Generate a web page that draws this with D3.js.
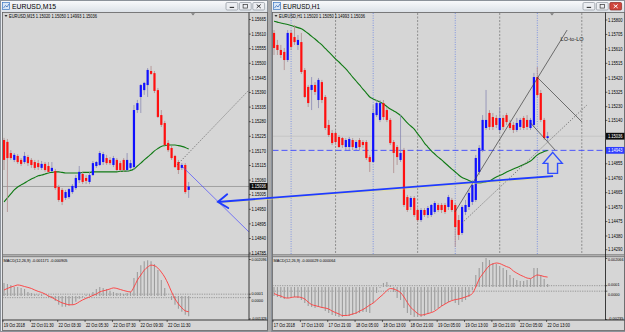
<!DOCTYPE html>
<html><head><meta charset="utf-8">
<script src="https://cdn.jsdelivr.net/npm/d3@7/dist/d3.min.js"></script>
<style>html,body{margin:0;padding:0;background:#a9a9a9;overflow:hidden}svg{display:block}</style>
</head><body>
<svg id="c" width="625" height="332"></svg>
<script>
// ================= DATA =================
const m15Title = "EURUSD,M15";
const h1Title = "EURUSD,H1";
const m15Header = "EURUSD,M15  1.15020 1.15050 1.14993 1.15036";
const h1Header = "EURUSD,H1  1.15020 1.15050 1.14993 1.15036";
const m15MacdHeader = "MACD(12,26,9) -0.001171 -0.000905";
const h1MacdHeader = "MACD(12,26,9) -0.000029 0.000064";

const m15TimeLabels = ["19 Oct 2018","22 Oct 01:30","22 Oct 03:30","22 Oct 05:30","22 Oct 07:30","22 Oct 09:30","22 Oct 11:30"];
const h1TimeLabels = ["17 Oct 2018","17 Oct 13:00","17 Oct 21:00","18 Oct 05:00","18 Oct 13:00","18 Oct 21:00","19 Oct 05:00","19 Oct 13:00","19 Oct 21:00","22 Oct 05:00","22 Oct 13:00"];
const barsPerLabel = 8;

const m15PriceTicks = [1.15665,1.15610,1.15555,1.15500,1.15445,1.15390,1.15335,1.15280,1.15225,1.15170,1.15115,1.15060,1.15005,1.14950,1.14895,1.14840,1.14785];
const h1PriceTicks = [1.15800,1.15705,1.15610,1.15515,1.15420,1.15325,1.15230,1.15140,1.14855,1.14760,1.14665,1.14570,1.14475,1.14380,1.14290];
const m15MacdTicks = [["0.002096",0.002096],["0.0001",0.0001],["0.0000",-0.0001],["-0.001329",-0.001329]];
const h1MacdTicks = [["0.002066",0.002066],["0.0001",0.0001],["0.0000",-0.0003],["-0.00235",-0.00235]];
const m15MacdLevels = [0.0001,-0.0001];
const h1MacdLevels = [0.0001,-0.0003];

const currentPrice = 1.15036;
const h1BlueLevel = 1.14943;

// M15 candles
const m15Open = [1.15211,1.15204,1.15162,1.15136,1.15151,1.15136,1.15128,1.15147,1.15136,1.15128,
1.15124,1.15106,1.15121,1.15113,1.15094,1.15094,1.15034,1.15023,1.14993,1.14996,
1.15015,1.15030,1.15060,1.15083,1.15068,1.15053,1.15079,1.15113,1.15117,1.15128,
1.15143,1.15136,1.15117,1.15136,1.15124,1.15136,1.15098,1.15106,1.15109,1.15324,
1.15373,1.15399,1.15418,1.15471,1.15463,1.15399,1.15305,1.15275,1.15200,1.15181,
1.15151,1.15128,1.15106,1.15117,1.15023];
const m15High = [1.15219,1.15215,1.15173,1.15162,1.15158,1.15143,1.15166,1.15155,1.15143,1.15136,
1.15136,1.15132,1.15128,1.15128,1.15128,1.15102,1.15042,1.15030,1.15023,1.15030,
1.15045,1.15079,1.15113,1.15091,1.15079,1.15091,1.15132,1.15132,1.15170,1.15166,
1.15155,1.15147,1.15151,1.15143,1.15132,1.15143,1.15162,1.15136,1.15343,1.15362,
1.15422,1.15430,1.15482,1.15490,1.15471,1.15407,1.15324,1.15283,1.15211,1.15189,
1.15155,1.15136,1.15124,1.15124,1.15053];
const m15Low = [1.15098,1.14940,1.15136,1.15128,1.15121,1.15113,1.15121,1.15113,1.15106,1.15098,
1.15098,1.15098,1.15091,1.15087,1.15091,1.15023,1.14978,1.14966,1.14985,1.14989,
1.15008,1.15023,1.15049,1.15045,1.15045,1.15045,1.15076,1.15106,1.15113,1.15117,
1.15117,1.15117,1.15109,1.15094,1.15091,1.15091,1.15091,1.15098,1.15098,1.15313,
1.15313,1.15381,1.15373,1.15456,1.15388,1.15294,1.15260,1.15189,1.15166,1.15136,
1.15106,1.15083,1.15098,1.15008,1.14993];
const m15Close = [1.15136,1.15143,1.15143,1.15155,1.15128,1.15121,1.15151,1.15124,1.15117,1.15106,
1.15109,1.15121,1.15098,1.15091,1.15106,1.15030,1.14985,1.14978,1.15015,1.15026,
1.15038,1.15068,1.15091,1.15053,1.15057,1.15079,1.15124,1.15128,1.15162,1.15158,
1.15124,1.15124,1.15143,1.15098,1.15098,1.15098,1.15136,1.15124,1.15324,1.15350,
1.15418,1.15426,1.15475,1.15460,1.15396,1.15298,1.15268,1.15192,1.15173,1.15143,
1.15109,1.15098,1.15117,1.15015,1.15036];
const m15MA = [1.14978,1.14993,1.15008,1.15023,1.15034,1.15042,1.15049,1.15057,1.15064,1.15070,
1.15076,1.15079,1.15083,1.15087,1.15089,1.15091,1.15091,1.15089,1.15087,1.15087,
1.15087,1.15087,1.15087,1.15089,1.15089,1.15089,1.15091,1.15091,1.15091,1.15091,
1.15091,1.15091,1.15091,1.15091,1.15093,1.15094,1.15094,1.15096,1.15102,1.15113,
1.15124,1.15136,1.15147,1.15158,1.15170,1.15179,1.15187,1.15190,1.15192,1.15192,
1.15192,1.15190,1.15187,1.15183,1.15177];
const m15Hist = [0.00074,0.00068,0.00063,0.00051,0.00051,0.00046,0.00040,0.00023,0.00017,0.00011,
0.00006,0.00006,0.00000,-0.00006,-0.00011,-0.00029,-0.00051,-0.00063,-0.00063,-0.00057,
-0.00051,-0.00034,-0.00017,-0.00006,0.00006,0.00011,0.00023,0.00040,0.00051,0.00046,
0.00040,0.00029,0.00023,0.00017,0.00017,0.00011,0.00017,0.00023,0.00103,0.00137,
0.00177,0.00200,0.00206,0.00200,0.00183,0.00149,0.00091,0.00046,0.00000,-0.00023,
-0.00051,-0.00074,-0.00091,-0.00109,-0.00117];
const m15Signal = [0.00034,0.00043,0.00051,0.00057,0.00063,0.00060,0.00054,0.00049,0.00043,0.00034,
0.00026,0.00020,0.00011,0.00000,-0.00009,-0.00020,-0.00031,-0.00040,-0.00046,-0.00051,
-0.00051,-0.00046,-0.00034,-0.00023,-0.00014,-0.00006,0.00003,0.00011,0.00023,0.00029,
0.00034,0.00040,0.00046,0.00043,0.00037,0.00031,0.00026,0.00023,0.00051,0.00091,
0.00120,0.00148,0.00166,0.00177,0.00174,0.00160,0.00137,0.00108,0.00069,0.00023,
-0.00017,-0.00046,-0.00069,-0.00086,-0.00091];

// H1 candles
const h1Open = [1.15715,1.15636,1.15603,1.15590,1.15537,1.15715,1.15688,1.15636,1.15655,1.15471,
1.15360,1.15340,1.15373,1.15274,1.15392,1.15294,1.15110,1.15057,1.15057,1.15031,
1.15024,1.14965,1.14965,1.15011,1.14959,1.15011,1.14998,1.14998,1.14899,1.14867,
1.15175,1.15143,1.15254,1.15208,1.15143,1.14998,1.14965,1.14880,1.14945,1.14636,
1.14571,1.14630,1.14551,1.14485,1.14551,1.14518,1.14518,1.14538,1.14584,1.14584,
1.14584,1.14571,1.14617,1.14584,1.14485,1.14400,1.14538,1.14571,1.14604,1.14617,
1.14801,1.14945,1.15090,1.15189,1.15162,1.15156,1.15077,1.15156,1.15175,1.15123,
1.15110,1.15077,1.15097,1.15156,1.15143,1.15090,1.15110,1.15425,1.15320,1.15143,
1.15024];
const h1High = [1.15734,1.15669,1.15636,1.15616,1.15734,1.15734,1.15767,1.15701,1.15715,1.15484,
1.15373,1.15425,1.15392,1.15419,1.15406,1.15307,1.15143,1.15077,1.15070,1.15044,
1.15031,1.15024,1.15031,1.15024,1.15011,1.15024,1.15011,1.15011,1.14913,1.15241,
1.15274,1.15274,1.15274,1.15228,1.15156,1.15011,1.14978,1.15175,1.14959,1.14650,
1.14643,1.14643,1.14564,1.14564,1.14564,1.14577,1.14590,1.14610,1.14597,1.14597,
1.14597,1.14650,1.14630,1.14597,1.14518,1.14584,1.14617,1.14682,1.14748,1.14913,
1.14978,1.15175,1.15340,1.15208,1.15189,1.15175,1.15228,1.15175,1.15189,1.15143,
1.15129,1.15156,1.15156,1.15169,1.15175,1.15156,1.15452,1.15491,1.15340,1.15156,
1.15064];
const h1Low = [1.15570,1.15570,1.15550,1.15471,1.15524,1.15603,1.15636,1.15603,1.15445,1.15287,
1.15228,1.15208,1.15307,1.15221,1.15254,1.15077,1.15031,1.14978,1.14978,1.14959,
1.14959,1.14945,1.14945,1.14945,1.14945,1.14945,1.14959,1.14880,1.14801,1.14860,
1.15162,1.15129,1.15143,1.15129,1.14978,1.14794,1.14847,1.14867,1.14571,1.14538,
1.14551,1.14505,1.14472,1.14472,1.14505,1.14498,1.14505,1.14525,1.14538,1.14531,
1.14525,1.14551,1.14538,1.14308,1.14354,1.14387,1.14518,1.14551,1.14584,1.14604,
1.14781,1.14932,1.15077,1.15077,1.15077,1.15090,1.15064,1.15077,1.15110,1.15077,
1.15057,1.15064,1.15077,1.15077,1.15077,1.15077,1.15097,1.15294,1.15129,1.15011,
1.15005];
const h1Close = [1.15616,1.15603,1.15570,1.15537,1.15715,1.15623,1.15655,1.15669,1.15458,1.15294,
1.15254,1.15373,1.15327,1.15406,1.15274,1.15090,1.15044,1.14991,1.14998,1.14965,
1.14978,1.15011,1.15018,1.14965,1.14998,1.14965,1.14978,1.14893,1.14867,1.15189,
1.15254,1.15254,1.15162,1.15143,1.14991,1.14926,1.14899,1.14926,1.14584,1.14551,
1.14630,1.14518,1.14485,1.14551,1.14518,1.14564,1.14584,1.14597,1.14551,1.14551,
1.14538,1.14636,1.14551,1.14439,1.14387,1.14571,1.14584,1.14663,1.14715,1.14893,
1.14959,1.15143,1.15143,1.15097,1.15097,1.15110,1.15156,1.15097,1.15129,1.15090,
1.15077,1.15123,1.15143,1.15090,1.15097,1.15143,1.15425,1.15307,1.15143,1.15024,
1.15036];
const h1MA = [1.15792,1.15786,1.15780,1.15775,1.15770,1.15764,1.15757,1.15750,1.15742,1.15728,
1.15711,1.15692,1.15675,1.15655,1.15636,1.15613,1.15590,1.15567,1.15544,1.15524,
1.15501,1.15478,1.15452,1.15425,1.15399,1.15373,1.15346,1.15320,1.15294,1.15281,
1.15271,1.15261,1.15248,1.15231,1.15215,1.15202,1.15189,1.15172,1.15149,1.15123,
1.15103,1.15083,1.15051,1.15024,1.14991,1.14965,1.14939,1.14919,1.14899,1.14880,
1.14860,1.14840,1.14820,1.14801,1.14781,1.14765,1.14755,1.14745,1.14735,1.14728,
1.14728,1.14732,1.14735,1.14742,1.14755,1.14768,1.14778,1.14788,1.14801,1.14811,
1.14820,1.14830,1.14840,1.14850,1.14860,1.14873,1.14893,1.14913,1.14926,1.14936,
1.14942];
const h1Hist = [-0.00065,-0.00072,-0.00080,-0.00087,-0.00080,-0.00072,-0.00072,-0.00080,-0.00094,-0.00116,
-0.00138,-0.00145,-0.00152,-0.00145,-0.00152,-0.00174,-0.00188,-0.00203,-0.00210,-0.00217,
-0.00217,-0.00210,-0.00210,-0.00203,-0.00195,-0.00188,-0.00181,-0.00181,-0.00188,-0.00116,
-0.00043,-0.00007,0.00029,0.00036,0.00014,-0.00036,-0.00080,-0.00094,-0.00152,-0.00188,
-0.00203,-0.00217,-0.00217,-0.00217,-0.00210,-0.00195,-0.00181,-0.00167,-0.00152,-0.00138,
-0.00123,-0.00109,-0.00094,-0.00116,-0.00130,-0.00109,-0.00094,-0.00072,-0.00022,0.00087,
0.00138,0.00181,0.00210,0.00195,0.00174,0.00167,0.00152,0.00138,0.00123,0.00087,
0.00065,0.00051,0.00043,0.00043,0.00051,0.00058,0.00138,0.00138,0.00087,0.00058,
0.00022];
const h1Signal = [-0.00047,-0.00058,-0.00065,-0.00076,-0.00080,-0.00076,-0.00072,-0.00072,-0.00076,-0.00087,
-0.00109,-0.00127,-0.00134,-0.00141,-0.00148,-0.00152,-0.00159,-0.00174,-0.00185,-0.00195,
-0.00206,-0.00206,-0.00203,-0.00195,-0.00188,-0.00174,-0.00163,-0.00148,-0.00130,-0.00116,
-0.00094,-0.00072,-0.00051,-0.00025,-0.00011,-0.00014,-0.00025,-0.00040,-0.00072,-0.00112,
-0.00148,-0.00170,-0.00192,-0.00203,-0.00199,-0.00192,-0.00185,-0.00174,-0.00156,-0.00138,
-0.00123,-0.00109,-0.00098,-0.00091,-0.00087,-0.00080,-0.00072,-0.00062,-0.00047,0.00000,
0.00058,0.00094,0.00127,0.00156,0.00167,0.00174,0.00170,0.00159,0.00148,0.00138,
0.00116,0.00101,0.00087,0.00076,0.00065,0.00062,0.00076,0.00087,0.00083,0.00076,
0.00072];

// vertical separators on H1 (bar indices)
const h1BlueSeps = [5,29,53,77];
const h1GraySeps = [18,42,66,90];

// trend lines: [bar, price] pairs
const m15DottedLine = [[50.6,1.15117],[71.6,1.15399]];
const m15BlueLine = [[52.3,1.15109],[71.6,1.14865]];
const h1LoToLo = [[52.9,1.14538],[85.7,1.15734]];
const h1PeakLine = [[76.9,1.15425],[90,1.15131]];
const h1SideLine = [[75,1.15123],[82.2,1.14945]];
const h1DottedLine = [[55,1.14466],[91.5,1.15241]];
const bigArrow = [[-16.4,1.14604],[81.6,1.14774]]; // in H1 coordinates
const upArrowTip = [81.5,1.14930];
const loToLoLabel = {text:"LO-to-LO", bar:83.8, price:1.15660};

// ================= DRAW =================
const svg = d3.select('#c');
const FONT = "'Liberation Sans', Arial, sans-serif";
const SP = 3.42;
const defs = svg.append('defs');
const grad = defs.append('linearGradient').attr('id','tb').attr('x1',0).attr('y1',0).attr('x2',0).attr('y2',1);
grad.append('stop').attr('offset','0%').attr('stop-color','#f8f9fb');
grad.append('stop').attr('offset','100%').attr('stop-color','#dde2e8');

svg.append('rect').attr('width',625).attr('height',332).attr('fill','#a9a9a9');

function txt(g, x, y, s, size, opt={}) {
  const t = g.append('text').attr('x',x).attr('y',y).attr('font-family',FONT).attr('font-size',size)
    .attr('fill',opt.fill||'#000').text(s);
  if (opt.len) t.attr('textLength',opt.len).attr('lengthAdjust','spacingAndGlyphs');
  if (opt.anchor) t.attr('text-anchor',opt.anchor);
  return t;
}

function makeWindow(cfg) {
  const g = svg.append('g');
  g.append('rect').attr('x',cfg.x0+0.5).attr('y',0.5).attr('width',cfg.w-1).attr('height',331)
    .attr('fill','#e6e9ee').attr('stroke','#8c929a');
  g.append('rect').attr('x',cfg.x0+1).attr('y',1).attr('width',cfg.w-2).attr('height',11).attr('fill','url(#tb)');
  g.append('rect').attr('x',cfg.x0+2.5).attr('y',2.5).attr('width',7).attr('height',7)
    .attr('fill','#d8e6f7').attr('stroke','#3b77c4').attr('stroke-width',0.7);
  g.append('path').attr('d',`M${cfg.x0+3.5},8 L${cfg.x0+5.5},5.5 L${cfg.x0+7},7 L${cfg.x0+9},4`)
    .attr('stroke','#2a60b0').attr('stroke-width',0.7).attr('fill','none');
  txt(g, cfg.x0+12, 9.4, cfg.title, 6.6, {len: cfg.titleLen});
  const bx = cfg.x0 + cfg.w - 42;
  for (let k=0;k<3;k++){
    const x = bx + k*13.4;
    const close = (k===2 && cfg.active);
    g.append('rect').attr('x',x).attr('y',2.5).attr('width',11.8).attr('height',7.5).attr('rx',1.2)
      .attr('fill', close ? '#d0463c' : '#eceef2').attr('stroke', close ? '#8a2a24' : '#8d939c').attr('stroke-width',0.7);
    const cx = x+5.9, cy = 6.25;
    if (k===0) g.append('rect').attr('x',cx-2.2).attr('y',cy+0.6).attr('width',4.4).attr('height',1.1).attr('fill','#333');
    if (k===1) g.append('rect').attr('x',cx-2.2).attr('y',cy-1.8).attr('width',4.4).attr('height',3.6).attr('fill','none').attr('stroke','#333').attr('stroke-width',0.7);
    if (k===2) g.append('path').attr('d',`M${cx-2},${cy-1.7}L${cx+2},${cy+1.7}M${cx+2},${cy-1.7}L${cx-2},${cy+1.7}`)
      .attr('stroke', close ? '#fff':'#333').attr('stroke-width',1);
  }
  g.append('rect').attr('x',cfg.left).attr('y',12.5).attr('width',cfg.right-cfg.left).attr('height',318)
    .attr('fill','#d6d6d6').attr('stroke','#5f5f5f').attr('stroke-width',0.8);
  return g;
}

function drawChart(cfg) {
  const g = makeWindow(cfg);
  const xs = d3.scaleLinear().domain([0, cfg.open.length-1]).range([cfg.x0bar, cfg.x0bar + (cfg.open.length-1)*SP]);
  const ys = d3.scaleLinear().domain(cfg.priceDomain).range(cfg.priceRange);
  const ym = d3.scaleLinear().domain(cfg.macdDomain).range(cfg.macdRange);
  const id = cfg.id;
  defs.append('clipPath').attr('id','main'+id).append('rect')
    .attr('x',cfg.left+0.5).attr('y',cfg.plotTop).attr('width',cfg.axisX-cfg.left-0.5).attr('height',cfg.plotBot-cfg.plotTop);
  defs.append('clipPath').attr('id','macd'+id).append('rect')
    .attr('x',cfg.left+0.5).attr('y',cfg.macdTop).attr('width',cfg.axisX-cfg.left-0.5).attr('height',cfg.macdBot-cfg.macdTop);

  g.append('rect').attr('x',cfg.left+0.4).attr('y',cfg.plotBot).attr('width',cfg.right-cfg.left-0.8).attr('height',cfg.macdTop-cfg.plotBot)
    .attr('fill','#c4c4c4');
  g.append('line').attr('x1',cfg.left).attr('x2',cfg.right).attr('y1',cfg.plotBot+0.3).attr('y2',cfg.plotBot+0.3).attr('stroke','#6a6a6a').attr('stroke-width',0.8);
  g.append('line').attr('x1',cfg.left).attr('x2',cfg.right).attr('y1',cfg.macdTop-0.3).attr('y2',cfg.macdTop-0.3).attr('stroke','#6a6a6a').attr('stroke-width',0.8);

  const main = g.append('g').attr('clip-path',`url(#main${id})`);
  const macd = g.append('g').attr('clip-path',`url(#macd${id})`);

  (cfg.blueSeps||[]).forEach(b=>{
    main.append('line').attr('x1',xs(b)).attr('x2',xs(b)).attr('y1',cfg.plotTop).attr('y2',cfg.plotBot)
      .attr('stroke','#5a78e6').attr('stroke-width',0.7).attr('stroke-dasharray','1,1.4');
  });
  (cfg.graySeps||[]).forEach(b=>{
    main.append('line').attr('x1',xs(b)).attr('x2',xs(b)).attr('y1',cfg.plotTop).attr('y2',cfg.plotBot)
      .attr('stroke','#707070').attr('stroke-width',0.7).attr('stroke-dasharray','2,1.5');
  });

  if (cfg.blueLevel) {
    main.append('line').attr('x1',cfg.left).attr('x2',cfg.axisX).attr('y1',ys(cfg.blueLevel)).attr('y2',ys(cfg.blueLevel))
      .attr('stroke','#3c46ff').attr('stroke-width',0.9).attr('stroke-dasharray','6,3');
  }
  main.append('line').attr('x1',cfg.left).attr('x2',cfg.axisX).attr('y1',ys(currentPrice)).attr('y2',ys(currentPrice))
    .attr('stroke',cfg.curLineColor).attr('stroke-width',0.7);

  main.append('path').datum(cfg.ma).attr('fill','none').attr('stroke','#0f7a14').attr('stroke-width',1.1)
    .attr('d', d3.line().x((d,i)=>xs(i)).y(d=>ys(d)).curve(d3.curveMonotoneX));

  cfg.open.forEach((o,i)=>{
    const c = cfg.close[i], h = cfg.high[i], l = cfg.low[i];
    const up = c >= o;
    main.append('line').attr('x1',xs(i)).attr('x2',xs(i)).attr('y1',ys(h)).attr('y2',ys(l))
      .attr('stroke', up ? '#8a8ab4' : '#b08a8a').attr('stroke-width',0.8);
    const top = ys(Math.max(o,c)), bot = ys(Math.min(o,c));
    main.append('rect').attr('x',xs(i)-1.1).attr('width',2.2).attr('y',top).attr('height',Math.max(0.9,bot-top))
      .attr('fill', up ? '#1010ff' : '#ff1010');
  });

  (cfg.lines||[]).forEach(L=>{
    main.append('line').attr('x1',xs(L.pts[0][0])).attr('y1',ys(L.pts[0][1])).attr('x2',xs(L.pts[1][0])).attr('y2',ys(L.pts[1][1]))
      .attr('stroke',L.color).attr('stroke-width',L.w).attr('stroke-dasharray',L.dash||null);
  });

  g.append('path').attr('d',`M${cfg.shiftX-2},${cfg.plotTop+0.3} L${cfg.shiftX+2},${cfg.plotTop+0.3} L${cfg.shiftX},${cfg.plotTop+2.6}Z`).attr('fill','#7a7a7a');

  g.append('path').attr('d',`M${cfg.left+2},${cfg.plotTop+2} L${cfg.left+5},${cfg.plotTop+2} L${cfg.left+3.5},${cfg.plotTop+4}Z`).attr('fill','#333');
  txt(g, cfg.left+6.5, cfg.plotTop+4.6, cfg.header, 4.6, {len: cfg.headerLen});

  cfg.macdLevels.forEach(v=>{
    macd.append('line').attr('x1',cfg.left).attr('x2',cfg.axisX).attr('y1',ym(v)).attr('y2',ym(v))
      .attr('stroke','#7d7d7d').attr('stroke-width',0.7).attr('stroke-dasharray','1.2,1.2');
  });
  cfg.hist.forEach((v,i)=>{
    macd.append('line').attr('x1',xs(i)).attr('x2',xs(i)).attr('y1',ym(0)).attr('y2',ym(v))
      .attr('stroke','#9c9c9c').attr('stroke-width',1.1);
  });
  macd.append('path').datum(cfg.signal).attr('fill','none').attr('stroke','#ff3a3a').attr('stroke-width',0.9)
    .attr('d', d3.line().x((d,i)=>xs(i)).y(d=>ym(d)).curve(d3.curveMonotoneX));
  txt(g, cfg.left+1, cfg.macdTop+4.5, cfg.macdHeader, 4.4, {len: cfg.macdHeaderLen});

  g.append('line').attr('x1',cfg.axisX).attr('x2',cfg.axisX).attr('y1',12.5).attr('y2',cfg.macdBot).attr('stroke','#111').attr('stroke-width',0.8);
  g.append('line').attr('x1',cfg.left).attr('x2',cfg.right).attr('y1',cfg.macdBot).attr('y2',cfg.macdBot).attr('stroke','#111').attr('stroke-width',0.8);

  cfg.priceTicks.forEach(v=>{
    const y = ys(v);
    g.append('line').attr('x1',cfg.axisX).attr('x2',cfg.axisX+1.8).attr('y1',y).attr('y2',y).attr('stroke','#111').attr('stroke-width',0.6);
    txt(g, cfg.axisX+2.4, y+1.7, v.toFixed(5), 4.8, {len:14.6});
  });
  // MACD ticks: the two near-zero labels are set one above, one below their lines
  const nearZero = cfg.macdTicks.slice(1,3);
  cfg.macdTicks.forEach(([s,v],k)=>{
    const y = ym(v);
    g.append('line').attr('x1',cfg.axisX).attr('x2',cfg.axisX+1.8).attr('y1',y).attr('y2',y).attr('stroke','#111').attr('stroke-width',0.6);
    let by;
    if (k===0) by = cfg.macdTop + 4.2;
    else if (k===1) by = y + 0.6;
    else if (k===2) by = y + 4.4;
    else by = cfg.macdBot - 0.4;
    const fs = (k===1||k===2) ? 3.9 : 4.4;
    const len = Math.min(s.length*1.95, cfg.right - cfg.axisX - 3.4);
    txt(g, cfg.axisX+2.4, by, s, fs, {len});
  });

  const cy = ys(currentPrice);
  g.append('rect').attr('x',cfg.axisX+0.5).attr('y',cy-3.4).attr('width',cfg.right-cfg.axisX-0.5).attr('height',6.8).attr('fill','#0c0c0c');
  txt(g, cfg.axisX+2.4, cy+1.7, currentPrice.toFixed(5), 4.8, {len:14.6, fill:'#fff'});
  if (cfg.blueLevel) {
    const by = ys(cfg.blueLevel);
    g.append('rect').attr('x',cfg.axisX+0.5).attr('y',by-3.4).attr('width',cfg.right-cfg.axisX-0.5).attr('height',6.8).attr('fill','#2f3dff');
    txt(g, cfg.axisX+2.4, by+1.7, cfg.blueLevel.toFixed(5), 4.8, {len:14.6, fill:'#fff'});
  }

  cfg.timeLabels.forEach((s,k)=>{
    const x = xs(k*barsPerLabel) - 1;
    g.append('line').attr('x1',x).attr('x2',x).attr('y1',cfg.macdBot).attr('y2',cfg.macdBot+2).attr('stroke','#111').attr('stroke-width',0.6);
    txt(g, x+0.8, cfg.macdBot+7.2, s, 4.7, {len: s.includes(':') ? 22.5 : 21});
  });

  return {xs, ys, g, main};
}

const L = drawChart({
  id:'L', x0:0, w:268, title:m15Title, titleLen:44, active:false,
  left:2.5, right:267.5, axisX:249, plotTop:13, plotBot:254.5, macdTop:257, macdBot:320,
  x0bar:4, priceDomain:[m15PriceTicks[0], m15PriceTicks[m15PriceTicks.length-1]], priceRange:[19.5,253.1],
  macdDomain:[0.002096,-0.001329], macdRange:[259.5,319],
  open:m15Open, high:m15High, low:m15Low, close:m15Close, ma:m15MA, hist:m15Hist, signal:m15Signal,
  priceTicks:m15PriceTicks, macdTicks:m15MacdTicks, macdLevels:m15MacdLevels,
  timeLabels:m15TimeLabels, header:m15Header, headerLen:88, macdHeader:m15MacdHeader, macdHeaderLen:64,
  curLineColor:'#8a8a8a', shiftX:193,
  lines:[
    {pts:m15DottedLine, color:'#555', w:0.7, dash:'1.3,1.5'},
    {pts:m15BlueLine, color:'#4a4aff', w:0.7}
  ]
});

const R = drawChart({
  id:'R', x0:271, w:354, title:h1Title, titleLen:37, active:true,
  left:272.5, right:624.5, axisX:605.5, plotTop:13, plotBot:254.5, macdTop:257, macdBot:320,
  x0bar:274, priceDomain:[h1PriceTicks[0], h1PriceTicks[h1PriceTicks.length-1]], priceRange:[20,249.7],
  macdDomain:[0.002066,-0.00235], macdRange:[258.5,319.5],
  open:h1Open, high:h1High, low:h1Low, close:h1Close, ma:h1MA, hist:h1Hist, signal:h1Signal,
  priceTicks:h1PriceTicks, macdTicks:h1MacdTicks, macdLevels:h1MacdLevels,
  timeLabels:h1TimeLabels, header:h1Header, headerLen:86, macdHeader:h1MacdHeader, macdHeaderLen:62,
  curLineColor:'#bdbdbd', shiftX:552, blueLevel:h1BlueLevel,
  blueSeps:h1BlueSeps, graySeps:h1GraySeps,
  lines:[
    {pts:h1LoToLo, color:'#3c3c3c', w:0.7},
    {pts:h1PeakLine, color:'#3c3c3c', w:0.7},
    {pts:h1SideLine, color:'#3c3c3c', w:0.7},
    {pts:h1DottedLine, color:'#555', w:0.7, dash:'1.3,1.5'}
  ]
});

txt(R.main, R.xs(loToLoLabel.bar), R.ys(loToLoLabel.price), loToLoLabel.text, 5.6, {len:23, fill:'#222'});

{
  const tx = R.xs(upArrowTip[0]), ty = R.ys(upArrowTip[1]);
  const d = `M${tx},${ty} L${tx+9.5},${ty+11} L${tx+4.8},${ty+11} L${tx+4.8},${ty+21} L${tx-4.8},${ty+21} L${tx-4.8},${ty+11} L${tx-9.5},${ty+11} Z`;
  svg.append('path').attr('d',d).attr('fill','none').attr('stroke','#2f4dff').attr('stroke-width',1.4).attr('stroke-linejoin','miter');
}

{
  const x1 = R.xs(bigArrow[0][0]), y1 = R.ys(bigArrow[0][1]);
  const x2 = R.xs(bigArrow[1][0]), y2 = R.ys(bigArrow[1][1]);
  svg.append('line').attr('x1',x1).attr('y1',y1+1.3).attr('x2',x2).attr('y2',y2+1.3).attr('stroke','#e9e27a').attr('stroke-width',0.7).attr('opacity',0.8);
  svg.append('line').attr('x1',x1).attr('y1',y1).attr('x2',x2).attr('y2',y2).attr('stroke','#1f3bff').attr('stroke-width',1.9);
  const ang = Math.atan2(y2-y1, x2-x1);
  const len = 12, spread = 35*Math.PI/180;
  const a1 = ang - spread, a2 = ang + spread;
  svg.append('path').attr('d',`M${x1+len*Math.cos(a1)},${y1+len*Math.sin(a1)} L${x1},${y1} L${x1+len*Math.cos(a2)},${y1+len*Math.sin(a2)}`)
    .attr('fill','none').attr('stroke','#1f3bff').attr('stroke-width',1.9).attr('stroke-linecap','round');
}
</script>
</body></html>
